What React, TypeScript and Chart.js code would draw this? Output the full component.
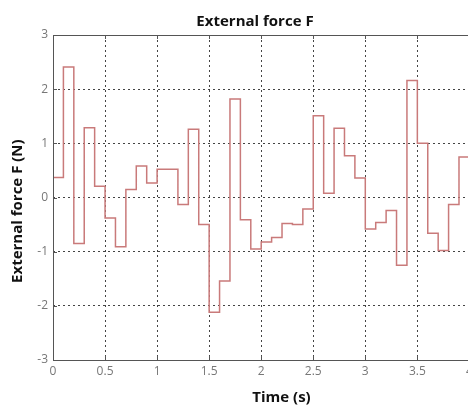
import { useEffect, useRef } from 'react';
import { Chart, registerables } from 'chart.js';

Chart.register(...registerables);

// Step start times (s) and the force value held from each time until the next one
const times = [
  0, 0.1, 0.2, 0.3, 0.4, 0.5, 0.6, 0.7, 0.8, 0.9,
  1.0, 1.1, 1.2, 1.3, 1.4, 1.5, 1.6, 1.7, 1.8, 1.9,
  2.0, 2.1, 2.2, 2.3, 2.4, 2.5, 2.6, 2.7, 2.8, 2.9,
  3.0, 3.1, 3.2, 3.3, 3.4, 3.5, 3.6, 3.7, 3.8, 3.9,
];
const forceValues = [
  0.37, 2.41, -0.85, 1.29, 0.21, -0.38, -0.91, 0.15, 0.58, 0.27,
  0.52, 0.52, -0.13, 1.26, -0.5, -2.12, -1.54, 1.82, -0.41, -0.95,
  -0.82, -0.74, -0.48, -0.5, -0.21, 1.51, 0.08, 1.28, 0.77, 0.36,
  -0.58, -0.46, -0.24, -1.25, 2.16, 1.0, -0.66, -0.98, -0.13, 0.75,
];
const stepEnd = 4.0;

const xTickValues = [0, 0.5, 1, 1.5, 2, 2.5, 3, 3.5, 4];
const yTickValues = [-3, -2, -1, 0, 1, 2, 3];

const chartTitle = 'External force F';
const xTitle = 'Time (s)';
const yTitle = 'External force F (N)';

const FONT = "'Open Sans', 'DejaVu Sans', sans-serif";

const framePlugin = {
  id: 'frame',
  afterDatasetsDraw(chart: any) {
    const { ctx, chartArea, scales } = chart;
    const { left, top, right, bottom } = chartArea;
    ctx.save();
    ctx.strokeStyle = '#555';
    ctx.lineWidth = 1;
    ctx.setLineDash([]);
    ctx.beginPath();
    ctx.rect(Math.round(left) + 0.5, Math.round(top) + 0.5, Math.round(right - left) - 1, Math.round(bottom - top));
    ctx.stroke();
    const tl = 4;
    ctx.beginPath();
    scales.x.ticks.forEach((t: any) => {
      const px = Math.round(scales.x.getPixelForValue(t.value)) + 0.5;
      ctx.moveTo(px, bottom);
      ctx.lineTo(px, bottom - tl);
      ctx.moveTo(px, top);
      ctx.lineTo(px, top + tl);
    });
    scales.y.ticks.forEach((t: any) => {
      const py = Math.round(scales.y.getPixelForValue(t.value)) + 0.5;
      ctx.moveTo(left, py);
      ctx.lineTo(left + tl, py);
      ctx.moveTo(right, py);
      ctx.lineTo(right - tl, py);
    });
    ctx.stroke();
    ctx.restore();
  },
};

export default function App() {
  const ref = useRef<HTMLCanvasElement>(null);

  useEffect(() => {
    const points = times.map((t, i) => ({ x: t, y: forceValues[i] }));
    points.push({ x: stepEnd, y: forceValues[forceValues.length - 1] });

    const tickFont = { family: FONT, size: 12 };
    const axisTitleFont = { family: FONT, size: 15, weight: 'bold' as const };

    const chart = new Chart(ref.current!, {
      type: 'line',
      data: {
        datasets: [
          {
            data: points,
            stepped: 'before',
            borderColor: '#c97a7a',
            borderWidth: 1.5,
            pointRadius: 0,
            fill: false,
          },
        ],
      },
      options: {
        animation: false,
        responsive: false,
        maintainAspectRatio: false,
        layout: { padding: 0 },
        plugins: {
          legend: { display: false },
          tooltip: { enabled: false },
          title: {
            display: true,
            text: chartTitle,
            color: '#111',
            font: { family: FONT, size: 15, weight: 'bold' },
            padding: { top: 13, bottom: 4 },
          },
        },
        scales: {
          x: {
            type: 'linear',
            min: 0,
            max: 4.39,
            afterBuildTicks: (s: any) => {
              s.ticks = xTickValues.map((v) => ({ value: v }));
            },
            ticks: {
              callback: (v: any) => String(v),
              font: tickFont,
              color: '#777',
              padding: 4,
              maxRotation: 0,
              autoSkip: false,
            },
            grid: { color: '#444', drawTicks: false, lineWidth: 1 },
            border: { display: false, dash: [2, 3] },
            title: {
              display: true,
              text: xTitle,
              color: '#111',
              font: axisTitleFont,
              padding: { top: 6.6, bottom: 0 },
            },
          },
          y: {
            type: 'linear',
            min: -3,
            max: 3,
            afterBuildTicks: (s: any) => {
              s.ticks = yTickValues.map((v) => ({ value: v }));
            },
            afterFit: (s: any) => {
              s.width = 53;
            },
            ticks: {
              callback: (v: any) => String(v),
              font: tickFont,
              color: '#777',
              padding: 5,
              autoSkip: false,
            },
            grid: { color: '#444', drawTicks: false, lineWidth: 1 },
            border: { display: false, dash: [2, 3] },
            title: {
              display: true,
              text: yTitle + '       ',
              color: '#111',
              font: axisTitleFont,
              padding: { top: 9, bottom: 2 },
            },
          },
        },
      },
      plugins: [framePlugin],
    });
    return () => chart.destroy();
  }, []);

  return (
    <div
      style={{
        position: 'fixed',
        left: 0,
        top: 0,
        width: 468,
        height: 407,
        overflow: 'hidden',
        background: '#fff',
      }}
    >
      <canvas ref={ref} width={510} height={407} style={{ display: 'block' }} />
    </div>
  );
}
